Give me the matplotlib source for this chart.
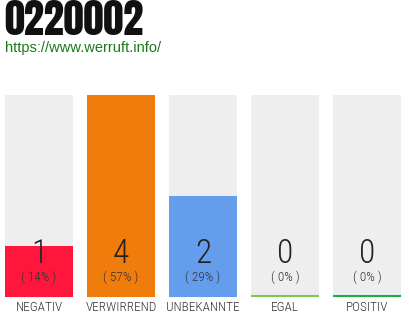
import matplotlib
matplotlib.use('Agg')
import matplotlib.pyplot as plt

# data
categories = ['NEGATIV', 'VERWIRREND', 'UNBEKANNTE', 'EGAL', 'POSITIV']
counts = [1, 4, 2, 0, 0]
percents = [14, 57, 29, 0, 0]
bar_colors = ['#ff163c', '#f07c0c', '#659ded', '#eeeeee', '#eeeeee']
line_colors = ['#ff163c', '#f07c0c', '#659ded', '#7dc855', '#17b33c']
title = '0220002'
url = 'https://www.werruft.info/'

light = ['Roboto Condensed', 'Barlow Condensed', 'DejaVu Sans']
heavy = ['Anton', 'Oswald', 'DejaVu Sans']

W, H = 410, 320
fig = plt.figure(figsize=(W / 100, H / 100), dpi=100)
fig.patch.set_facecolor('#FFFFFF')

# bar area in pixels: x 5..401, y 95..296
ax = fig.add_axes([5 / W, (H - 296) / H, 396 / W, 201 / H])
ax.set_axis_off()

n = len(categories)
xs = list(range(n))
width = 68 / 82
ymax = max(counts)

ax.bar(xs, [ymax] * n, width=width, color='#eeeeee', linewidth=0)
ax.bar(xs, counts, width=width, color=bar_colors, linewidth=0)
for x, c in zip(xs, line_colors):
    ax.plot([x - width / 2, x + width / 2], [0, 0], color=c, lw=1.5,
            solid_capstyle='butt', clip_on=False)

ax.set_xlim(-width / 2, n - 1 + width / 2)
ax.set_ylim(0, ymax)

for x, c, p, lab in zip(xs, counts, percents, categories):
    ax.text(x, 0.84, str(c), ha='center', va='center', fontsize=24,
            family=light, weight=300, color='#222222')
    ax.text(x, 0.37, '( %d%% )' % p, ha='center', va='center', fontsize=9.5,
            family=light, weight=300, color='#333333')
    ax.text(x, -0.22, lab, ha='center', va='center', fontsize=9.5,
            family=light, weight=300, color='#333333', clip_on=False)

fig.text(4 / W, 1 - 20 / H, title, ha='left', va='center', fontsize=29,
         family=heavy, color='#111111')
fig.text(5 / W, 1 - 48 / H, url, ha='left', va='center', fontsize=10.5,
         family=['Liberation Sans', 'DejaVu Sans'], color='#1a7a1a')

fig.savefig('out.png', dpi=100)
